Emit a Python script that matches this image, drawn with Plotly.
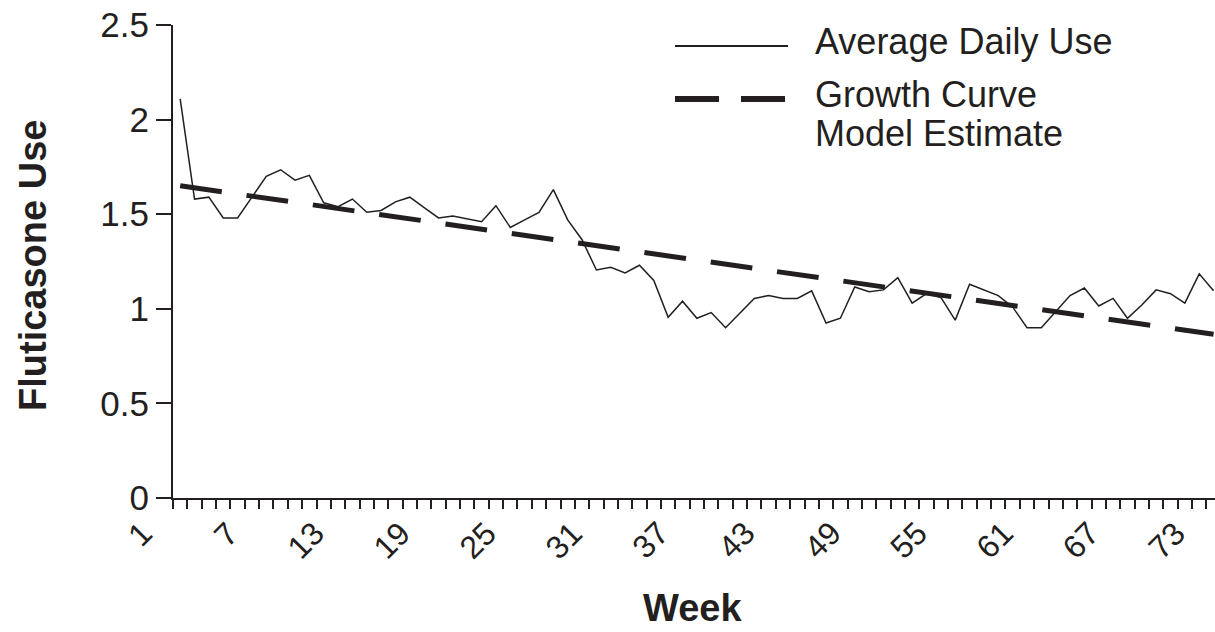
import plotly.graph_objects as go

# ---------------- data ----------------
weeks = list(range(1, 74))
avg_daily_use = [
    2.11, 1.58, 1.59, 1.48, 1.48, 1.59, 1.70, 1.735, 1.68, 1.705,
    1.56, 1.54, 1.58, 1.51, 1.52, 1.565, 1.59, 1.535, 1.48, 1.49,
    1.475, 1.46, 1.545, 1.43, 1.47, 1.51, 1.63, 1.47, 1.365, 1.205,
    1.22, 1.19, 1.23, 1.15, 0.955, 1.04, 0.95, 0.98, 0.90, 0.975,
    1.055, 1.07, 1.055, 1.055, 1.095, 0.925, 0.95, 1.115, 1.09, 1.10,
    1.165, 1.03, 1.08, 1.06, 0.94, 1.13, 1.10, 1.07, 1.01, 0.90,
    0.90, 0.985, 1.07, 1.11, 1.015, 1.055, 0.95, 1.02, 1.10, 1.08,
    1.03, 1.185, 1.095,
]
model_weeks = [1, 73]
model_estimate = [1.65, 0.865]

x_tick_vals = [1, 7, 13, 19, 25, 31, 37, 43, 49, 55, 61, 67, 73]
x_tick_text = [str(v) for v in x_tick_vals]
y_tick_vals = [0, 0.5, 1, 1.5, 2, 2.5]
y_tick_text = ["0", "0.5", "1", "1.5", "2", "2.5"]

legend_labels = ["Average Daily Use", "Growth Curve", "Model Estimate"]
x_title = "Week"
y_title = "Fluticasone Use"

# ---------------- style ----------------
INK = "#231f20"
FONT = "Liberation Sans, Arial, Helvetica, sans-serif"
L, T, W, H = 173, 25, 1042, 473  # plot area in px


def px_x(p):
    return (p - L) / W


def px_y(p):
    return (T + H - p) / H


fig = go.Figure()
fig.add_trace(go.Scatter(
    x=weeks, y=avg_daily_use, mode="lines",
    line=dict(color=INK, width=1.5), showlegend=False,
))
fig.add_trace(go.Scatter(
    x=model_weeks, y=model_estimate, mode="lines",
    line=dict(color=INK, width=5, dash="42px,25px"), showlegend=False,
))

fig.update_layout(
    width=1215, height=632,
    margin=dict(l=L, r=1215 - L - W, t=T, b=632 - T - H),
    paper_bgcolor="white", plot_bgcolor="white",
    font=dict(family=FONT, color=INK, size=34),
    showlegend=False,
)
fig.update_xaxes(
    range=[0.5, 73.1], showgrid=False, zeroline=False,
    showline=True, linecolor=INK, linewidth=2,
    tickmode="array", tickvals=x_tick_vals, showticklabels=False,
    ticks="outside", ticklen=1, tickcolor="rgba(0,0,0,0)",
    minor=dict(tick0=0.5, dtick=1, ticks="outside", ticklen=9,
               tickwidth=1.5, tickcolor=INK, showgrid=False),
)
fig.update_yaxes(
    range=[0, 2.5], showgrid=False, zeroline=False,
    showline=True, linecolor=INK, linewidth=2,
    tickmode="array", tickvals=y_tick_vals, ticktext=y_tick_text,
    ticks="outside", ticklen=15, tickwidth=2, tickcolor=INK,
    tickfont=dict(size=35, color=INK),
)

# rotated category labels, placed on the x scale (Excel-like offset)
for v, t in zip(x_tick_vals, x_tick_text):
    fig.add_annotation(text=t, xref="x", yref="paper", x=v, y=px_y(512),
                       xshift=-18, textangle=-45, showarrow=False,
                       xanchor="right", yanchor="top",
                       font=dict(size=32, color=INK, family=FONT))

# axis titles
fig.add_annotation(text=f"<b>{y_title}</b>", xref="paper", yref="paper",
                   x=px_x(33), y=px_y(266), textangle=-90, showarrow=False,
                   xanchor="center", yanchor="middle",
                   font=dict(size=38, color=INK, family=FONT))
fig.add_annotation(text=f"<b>{x_title}</b>", xref="paper", yref="paper",
                   x=px_x(692), y=px_y(631), showarrow=False,
                   xanchor="center", yanchor="bottom",
                   font=dict(size=38, color=INK, family=FONT))

# manual legend
fig.add_shape(type="line", xref="paper", yref="paper",
              x0=px_x(675), x1=px_x(788), y0=px_y(46), y1=px_y(46),
              line=dict(color=INK, width=2))
fig.add_shape(type="line", xref="paper", yref="paper",
              x0=px_x(675), x1=px_x(786), y0=px_y(99), y1=px_y(99),
              line=dict(color=INK, width=6, dash="44px,22px"))
for label, cy in zip(legend_labels, [41, 94, 133]):
    fig.add_annotation(text=label, xref="paper", yref="paper",
                       x=px_x(813), y=px_y(cy), showarrow=False,
                       xanchor="left", yanchor="middle",
                       font=dict(size=36, color=INK, family=FONT))

fig.write_html("out.html")
